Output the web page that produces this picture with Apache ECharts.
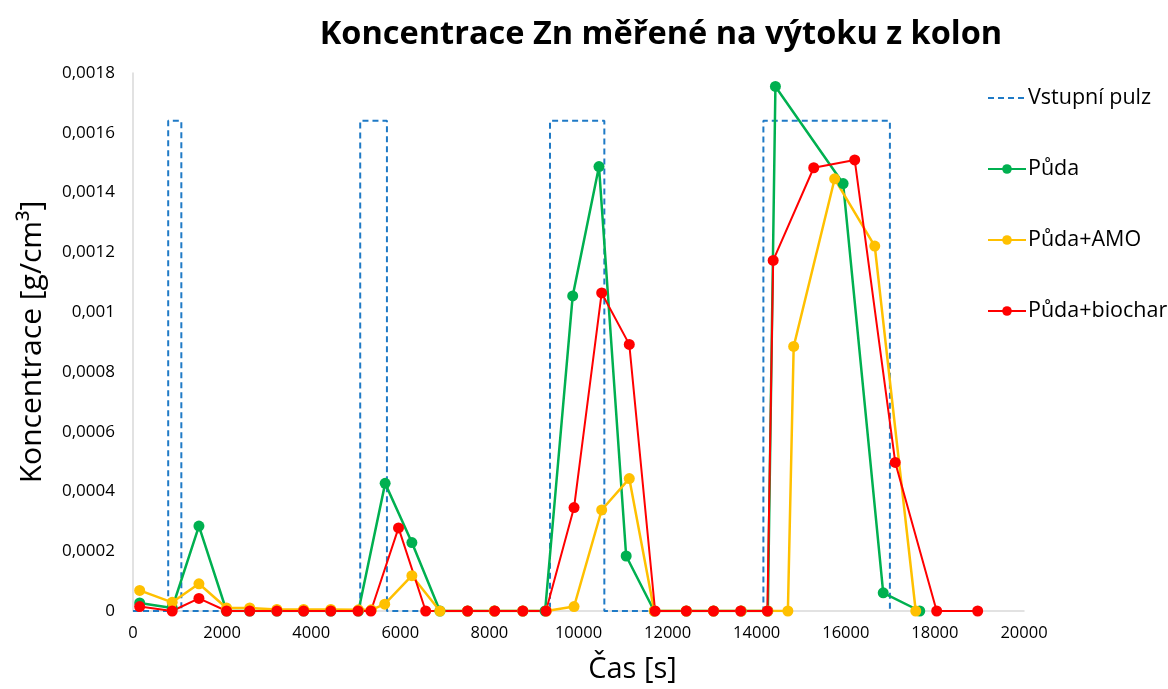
<!DOCTYPE html>
<html>
<head>
<meta charset="utf-8">
<script src="https://cdn.jsdelivr.net/npm/echarts@6/dist/echarts.min.js"></script>
<style>
html,body{margin:0;padding:0;background:#fff;}
#c{width:1168px;height:689px;}
</style>
</head>
<body>
<div id="c"></div>
<script>
// Time [s] and concentrations [g/cm3]
const pulseT = [0, 790, 790, 1085, 1085, 5100, 5100, 5700, 5700, 9360, 9360, 10580, 10580, 14150, 14150, 16990, 16990];
const pulseC = [0, 0, 0.00164, 0.00164, 0, 0, 0.00164, 0.00164, 0, 0, 0.00164, 0.00164, 0, 0, 0.00164, 0.00164, 0];

const pudaT = [150, 880, 1480, 2100, 2620, 3230, 3830, 4440, 5060, 5660, 6260, 6890, 7510, 8110, 8750, 9250, 9870, 10460, 11070, 11700, 12420, 13030, 13650, 14250, 14420, 15940, 16840, 17660];
const pudaC = [0.000027, 0.00001, 0.000284, 0, 0, 0, 0, 0, 0, 0.000427, 0.000229, 0, 0, 0, 0, 0, 0.001054, 0.001487, 0.000184, 0, 0, 0, 0, 0, 0.001755, 0.00143, 0.000061, 0];

const amoT = [150, 880, 1480, 2100, 2620, 3230, 3830, 4440, 5060, 5350, 5650, 6260, 6890, 7510, 8110, 8750, 9280, 9900, 10520, 11140, 11700, 12420, 13030, 13650, 14250, 14700, 14830, 15750, 16650, 17570];
const amoC = [0.000069, 0.000029, 0.000091, 0.00001, 0.00001, 0.000005, 0.000005, 0.000005, 0.000004, 0.000004, 0.000023, 0.000118, 0, 0, 0, 0, 0, 0.000015, 0.000338, 0.000443, 0, 0, 0, 0, 0, 0, 0.000885, 0.001446, 0.001221, 0];

const bioT = [150, 880, 1480, 2100, 2620, 3230, 3830, 4440, 5050, 5340, 5960, 6570, 7510, 8120, 8750, 9270, 9900, 10520, 11140, 11720, 12420, 13030, 13640, 14240, 14370, 15280, 16200, 17110, 18040, 18960];
const bioC = [0.000015, 0, 0.000042, 0, 0, 0, 0, 0, 0, 0, 0.000278, 0, 0, 0, 0, 0, 0.000346, 0.001064, 0.000892, 0, 0, 0, 0, 0, 0.001173, 0.001483, 0.001509, 0.000497, 0, 0];

const seriesNames = ['Vstupní pulz', 'Půda', 'Půda+AMO', 'Půda+biochar'];

const zip = (t, c) => t.map((v, i) => [v, c[i]]);
const FONT = 'Open Sans';

const chart = echarts.init(document.getElementById('c'));
chart.setOption({
  backgroundColor: '#fff',
  animation: false,
  title: {
    text: 'Koncentrace Zn měřené na výtoku z kolon',
    left: 656, top: 13, textAlign: 'center',
    textStyle: { fontFamily: FONT, fontWeight: 'bold', fontSize: 32.5, color: '#000' }
  },
  legend: {
    orient: 'vertical',
    left: 982, top: 82,
    itemWidth: 38, itemHeight: 12, itemGap: 49,
    textStyle: { fontFamily: FONT, fontSize: 21.5, color: '#000', padding: [0, 0, 0, -3] },
    data: [
      { name: seriesNames[0], itemStyle: { opacity: 0 } },
      seriesNames[1], seriesNames[2], seriesNames[3]
    ]
  },
  grid: { left: 133, right: 144, top: 73, bottom: 76, containLabel: false },
  xAxis: {
    type: 'value', min: 0, max: 20000, interval: 2000,
    name: 'Čas [s]', nameLocation: 'middle', nameGap: 44,
    nameTextStyle: { fontFamily: FONT, fontSize: 29, color: '#000', padding: [0, 0, 0, 108] },
    axisLine: { show: true, onZero: false, lineStyle: { color: '#d9d9d9', width: 1.5 } },
    axisTick: { show: false },
    splitLine: { show: false },
    axisLabel: { fontFamily: FONT, fontSize: 16.5, color: '#000', margin: 14,
      formatter: v => String(v) }
  },
  yAxis: {
    type: 'value', min: 0, max: 0.0018, interval: 0.0002,
    name: 'Koncentrace [g/cm³]', nameLocation: 'middle', nameGap: 86, nameRotate: 90,
    nameTextStyle: { fontFamily: FONT, fontSize: 30, color: '#000' },
    axisLine: { show: true, lineStyle: { color: '#d9d9d9', width: 1.5 } },
    axisTick: { show: false },
    splitLine: { show: false },
    axisLabel: { fontFamily: FONT, fontSize: 17, color: '#000', margin: 18,
      formatter: v => v === 0 ? '0' : String(+v.toFixed(4)).replace('.', ',') }
  },
  series: [
    { name: seriesNames[0], type: 'line', data: zip(pulseT, pulseC), symbol: 'none',
      itemStyle: { color: '#1f7ac6' },
      lineStyle: { color: '#1f7ac6', width: 2, type: [6, 4] } },
    { name: seriesNames[1], type: 'line', data: zip(pudaT, pudaC), symbol: 'circle', symbolSize: 11,
      itemStyle: { color: '#00B050' }, lineStyle: { color: '#00B050', width: 2.5 } },
    { name: seriesNames[2], type: 'line', data: zip(amoT, amoC), symbol: 'circle', symbolSize: 11,
      itemStyle: { color: '#FFC000' }, lineStyle: { color: '#FFC000', width: 2.5 } },
    { name: seriesNames[3], type: 'line', data: zip(bioT, bioC), symbol: 'circle', symbolSize: 11,
      itemStyle: { color: '#FF0000' }, lineStyle: { color: '#FF0000', width: 2 } }
  ]
});
</script>
</body>
</html>
